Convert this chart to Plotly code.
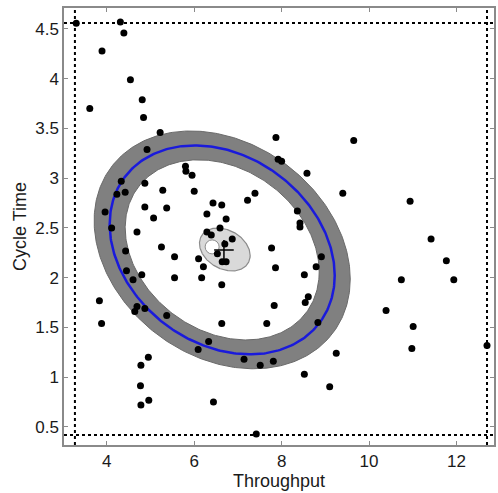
import numpy as np
import plotly.graph_objects as go

# ---- data ----
throughput = [3.30, 4.31, 4.39, 3.89, 4.54, 3.61, 4.81, 4.84, 5.22, 4.92,
              5.80, 5.81, 5.95, 6.00, 4.87, 5.28, 4.33, 4.23, 4.42, 3.96,
              4.87, 5.37, 5.07, 4.11, 4.69, 6.43, 6.63, 6.29, 6.73, 7.22,
              5.25, 7.87, 9.65, 7.92, 8.00, 8.58, 7.39, 9.40, 10.94, 8.36,
              8.42, 8.42, 11.42, 7.77, 4.43, 5.55, 5.55, 6.10, 6.21, 6.17,
              6.63, 6.63, 4.45, 4.60, 4.80, 3.83, 3.88, 4.69, 4.64, 4.87,
              5.37, 6.09, 6.33, 7.14, 4.78, 4.95, 4.77, 4.78, 4.96, 6.44,
              8.91, 7.86, 8.79, 8.52, 8.61, 8.54, 7.83, 7.66, 8.83, 9.25,
              7.81, 7.51, 8.52, 9.10, 7.42, 11.77, 10.74, 11.94, 10.39, 11.01,
              10.98, 12.70, 6.29, 6.39, 6.59, 6.87, 6.70, 6.53, 6.64, 6.73]
cycle_time = [4.557, 4.57, 4.46, 4.28, 3.99, 3.70, 3.79, 3.61, 3.46, 3.29,
              3.12, 3.07, 3.03, 2.87, 2.95, 2.88, 2.97, 2.84, 2.86, 2.66,
              2.71, 2.70, 2.60, 2.50, 2.46, 2.75, 2.73, 2.64, 2.59, 2.78,
              2.31, 3.41, 3.38, 3.19, 3.17, 3.05, 2.85, 2.85, 2.77, 2.67,
              2.55, 2.51, 2.39, 2.30, 2.27, 2.21, 2.00, 2.19, 2.11, 2.00,
              1.93, 1.54, 2.07, 1.98, 2.03, 1.77, 1.54, 1.71, 1.66, 1.69,
              1.62, 1.28, 1.36, 1.18, 1.12, 1.20, 0.915, 0.72, 0.77, 0.75,
              2.21, 2.10, 2.11, 2.03, 1.81, 1.75, 1.72, 1.54, 1.55, 1.24,
              1.16, 1.12, 1.03, 0.905, 0.43, 2.17, 1.98, 1.98, 1.67, 1.51,
              1.29, 1.32, 2.46, 2.43, 2.50, 2.39, 2.34, 2.24, 2.16, 2.16]

# confidence ellipse parameters (centre, spreads, correlation)
big_center = (6.64, 2.28)
big_sx, big_sy, big_rho = 2.575, 1.05, -0.245
band_scale = (1.138, 0.862)
small_center = (6.70, 2.284)
small_sx, small_sy, small_rho = 0.58, 0.216, -0.28
median_point = ([6.41], [2.31])
mean_point = ([6.68], [2.28])

x_bounds = [3.27, 12.70]
y_bounds = [0.42, 4.56]
x_range = [3.02, 12.86]
y_range = [0.319, 4.711]
x_ticks = [4, 6, 8, 10, 12]
y_ticks = [0.5, 1, 1.5, 2, 2.5, 3, 3.5, 4, 4.5]


def ellipse(center, sx, sy, rho, k=1.0, n=361):
    t = np.linspace(0, 2 * np.pi, n)
    cov = np.array([[sx * sx, rho * sx * sy], [rho * sx * sy, sy * sy]])
    L = np.linalg.cholesky(cov)
    pts = L @ np.vstack([np.cos(t), np.sin(t)]) * k
    return pts[0] + center[0], pts[1] + center[1]


fig = go.Figure()

ox, oy = ellipse(big_center, big_sx, big_sy, big_rho, band_scale[0])
ix, iy = ellipse(big_center, big_sx, big_sy, big_rho, band_scale[1])
bx, by = ellipse(big_center, big_sx, big_sy, big_rho)
sx_, sy_ = ellipse(small_center, small_sx, small_sy, small_rho)

fig.add_trace(go.Scatter(x=ox, y=oy, mode="lines", fill="toself",
                         fillcolor="#808080", line=dict(color="#6a6a6a", width=1),
                         hoverinfo="skip"))
fig.add_trace(go.Scatter(x=ix, y=iy, mode="lines", fill="toself",
                         fillcolor="white", line=dict(color="#6a6a6a", width=1),
                         hoverinfo="skip"))
fig.add_trace(go.Scatter(x=bx, y=by, mode="lines",
                         line=dict(color="#1a1adb", width=2.5), hoverinfo="skip"))
fig.add_trace(go.Scatter(x=sx_, y=sy_, mode="lines", fill="toself",
                         fillcolor="#d9d9d9", line=dict(color="#8c8c8c", width=1.2),
                         hoverinfo="skip"))

# dotted bounding lines
fig.add_trace(go.Scatter(x=[x_range[0], x_range[1]], y=[y_bounds[1], y_bounds[1]],
                         mode="lines", line=dict(color="black", width=2, dash="dot")))
fig.add_trace(go.Scatter(x=[x_range[0], x_range[1]], y=[y_bounds[0], y_bounds[0]],
                         mode="lines", line=dict(color="black", width=2, dash="dot")))
fig.add_trace(go.Scatter(x=[x_bounds[0], x_bounds[0]], y=[y_range[0], y_range[1]],
                         mode="lines", line=dict(color="black", width=2, dash="dot")))
fig.add_trace(go.Scatter(x=[x_bounds[1], x_bounds[1]], y=[y_range[0], y_range[1]],
                         mode="lines", line=dict(color="black", width=2, dash="dot")))

fig.add_trace(go.Scatter(x=median_point[0], y=median_point[1], mode="markers",
                         marker=dict(size=14, color="white",
                                     line=dict(color="#8c8c8c", width=1))))
fig.add_trace(go.Scatter(x=throughput, y=cycle_time, mode="markers",
                         marker=dict(size=7, color="black")))
fig.add_trace(go.Scatter(x=mean_point[0], y=mean_point[1], mode="markers",
                         marker=dict(size=14, symbol="cross-thin",
                                     line=dict(color="black", width=1.5))))

axis_common = dict(showgrid=False, zeroline=False, showline=True, mirror="ticks",
                   linecolor="#8a8a8a", linewidth=1.5, ticks="inside", ticklen=4,
                   tickcolor="#8a8a8a",
                   tickfont=dict(family="Liberation Sans, Arial", size=17, color="#1a1a1a"))

fig.update_layout(
    width=498, height=493,
    margin=dict(l=64, r=2, t=8, b=48),
    paper_bgcolor="white", plot_bgcolor="white",
    showlegend=False,
    xaxis=dict(range=x_range, tickvals=x_ticks,
               title=dict(text="Throughput", standoff=4,
                          font=dict(family="Liberation Sans, Arial", size=18, color="#1a1a1a")),
               **axis_common),
    yaxis=dict(range=y_range, tickvals=y_ticks,
               title=dict(text="Cycle Time", standoff=4,
                          font=dict(family="Liberation Sans, Arial", size=18, color="#1a1a1a")),
               **axis_common),
)

fig.write_html("out.html")
